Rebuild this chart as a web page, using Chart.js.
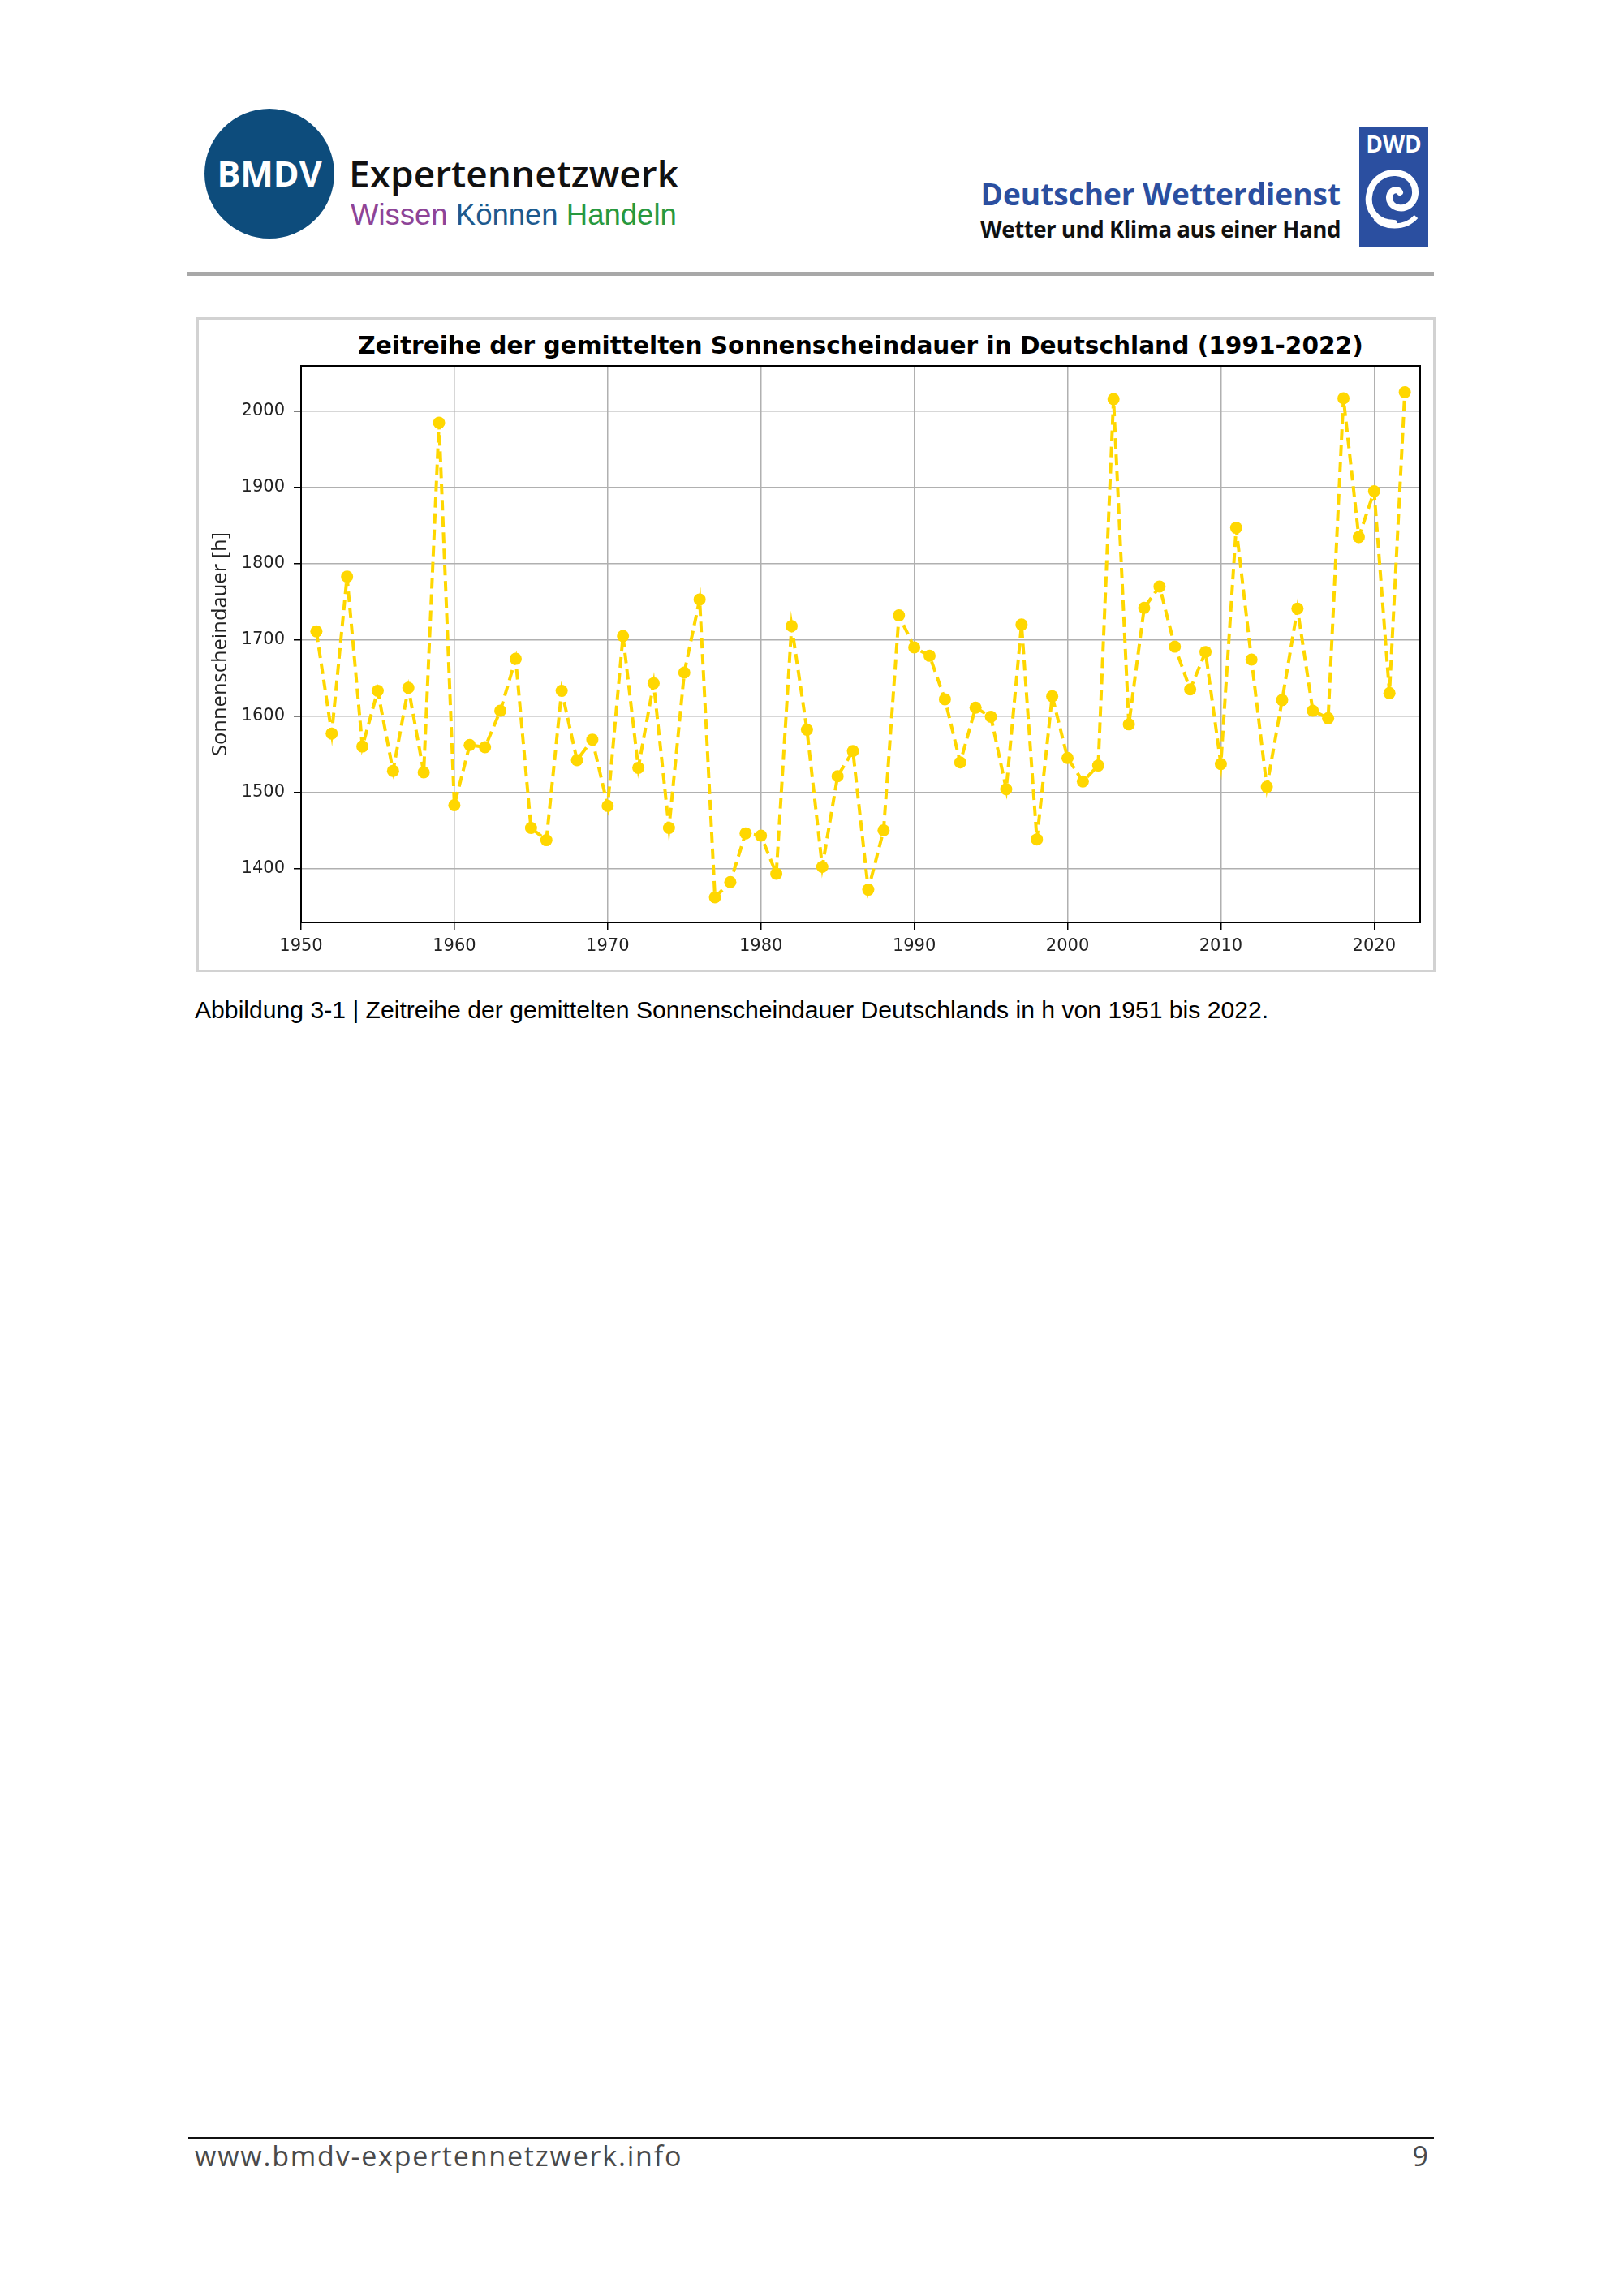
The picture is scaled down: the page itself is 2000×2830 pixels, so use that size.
<!DOCTYPE html>
<html>
<head>
<meta charset="utf-8">
<script src="https://cdn.jsdelivr.net/npm/chart.js@4"></script>
<style>
  body { margin: 0; background: #fff; }
  #page { position: relative; width: 2000px; height: 2830px; background: #fff; overflow: hidden; }
  .abs { position: absolute; white-space: nowrap; }
  #bmdvCircle { left: 252px; top: 134px; width: 160px; height: 160px; border-radius: 50%; background: #0d4c7c;
    color: #fff; font: bold 43px "Open Sans", sans-serif; text-align: center; line-height: 160px; }
  #expert { left: 430px; top: 182px; font: 600 46px "Open Sans", sans-serif; color: #111; }
  #claim { left: 432px; top: 244px; font: 36.5px "Liberation Sans", Arial, sans-serif; }
  #dwdName { right: 348px; top: 213px; font: bold 37px "Open Sans", sans-serif; color: #2b4fa0; }
  #dwdClaim { right: 348px; top: 263px; font: bold 27.7px "Open Sans", sans-serif; color: #111; letter-spacing: -0.5px; }
  #dwdBox { left: 1675px; top: 157px; width: 85px; height: 148px; background: #2b4fa0; }
  #dwdBox span { position: absolute; left: 0; width: 85px; top: 1px; text-align: center; color: #fff; font: bold 28px "Open Sans", sans-serif; }
  #headLine { left: 231px; top: 335px; width: 1536px; height: 5px; background: #a8a8a8; }
  #frame { left: 242px; top: 391px; width: 1521px; height: 801px; border: 3px solid #d2d2d2; }
  #chartTitle { left: 371px; width: 1379px; top: 409px; text-align: center; font: bold 29.6px "DejaVu Sans", sans-serif; color: #000; }
  #wrap { left: 242px; top: 391px; width: 1527px; height: 807px; }
  #caption { left: 240px; top: 1228px; font: 30.15px "Liberation Sans", Arial, sans-serif; color: #000; }
  #footLine { left: 232px; top: 2634px; width: 1535px; height: 3px; background: #111; }
  #footText { left: 240px; top: 2634px; font: 34px "Open Sans", sans-serif; color: #4a4a4a; letter-spacing: 1.8px; }
  #pageNo { right: 240px; top: 2634px; font: 34px "Open Sans", sans-serif; color: #4a4a4a; }
</style>
</head>
<body>
<div id="page">
  <div class="abs" id="bmdvCircle">BMDV</div>
  <div class="abs" id="expert">Expertennetzwerk</div>
  <div class="abs" id="claim"><span style="color:#8e4497">Wissen</span> <span style="color:#1d5a8e">Können</span> <span style="color:#27993f">Handeln</span></div>
  <div class="abs" id="dwdName">Deutscher Wetterdienst</div>
  <div class="abs" id="dwdClaim">Wetter und Klima aus einer Hand</div>
  <div class="abs" id="dwdBox"><span>DWD</span>
    <svg width="85" height="148" style="position:absolute;left:0;top:0">
      <path d="M43 118 C20 118 10 100 12 85 C14 66 30 55 45 56 C60 57 70 68 69 82 C68 94 58 101 48 99 C39 97 35 89 38 82 C41 76 48 76 50 80"
            fill="none" stroke="#fff" stroke-width="8" stroke-linecap="round"/>
      <path d="M20 112 C30 124 56 126 70 110" fill="none" stroke="#fff" stroke-width="6"/>
    </svg>
  </div>
  <div class="abs" id="headLine"></div>

  <div class="abs" id="frame"></div>
  <div class="abs" id="chartTitle">Zeitreihe der gemittelten Sonnenscheindauer in Deutschland (1991-2022)</div>
  <div class="abs" id="wrap"><canvas id="myChart"></canvas></div>

  <div class="abs" id="caption">Abbildung 3-1 | Zeitreihe der gemittelten Sonnenscheindauer Deutschlands in h von 1951 bis 2022.</div>

  <div class="abs" id="footLine"></div>
  <div class="abs" id="footText">www.bmdv-expertennetzwerk.info</div>
  <div class="abs" id="pageNo">9</div>
</div>

<script>
  // jahre 1951 - 2022
  var years = [];
  for (var y = 1951; y <= 2022; y++) years.push(y);

  // sonnenscheindauer in h
  var sunHours = [
    1711, 1577, 1783, 1560, 1633, 1528, 1637, 1526, 1985, 1483,
    1562, 1559, 1607, 1675, 1453, 1437, 1633, 1542, 1569, 1482,
    1705, 1532, 1643, 1453, 1657, 1753, 1362, 1382, 1446, 1443,
    1393, 1718, 1582, 1402, 1521, 1554, 1372, 1450, 1732, 1690,
    1679, 1622, 1539, 1611, 1599, 1504, 1720, 1438, 1626, 1545,
    1514, 1535, 2016, 1589, 1742, 1770, 1691, 1635, 1684, 1537,
    1847, 1674, 1507, 1621, 1741, 1607, 1597, 2017, 1835, 1895,
    1630, 2025
  ];

  var xTicks = [1950, 1960, 1970, 1980, 1990, 2000, 2010, 2020];
  var yTicks = [1400, 1500, 1600, 1700, 1800, 1900, 2000];

  var points = [];
  for (var i = 0; i < years.length; i++) {
    points.push({ x: years[i], y: sunHours[i] });
  }

  // schwarzer rahmen um den plot wie bei matplotlib
  var boxPlugin = {
    id: 'box',
    afterDraw: function(chart) {
      var a = chart.chartArea;
      var ctx = chart.ctx;
      ctx.save();
      ctx.strokeStyle = '#000';
      ctx.lineWidth = 2;
      ctx.strokeRect(a.left, a.top, a.right - a.left, a.bottom - a.top);
      ctx.restore();
    }
  };

  function plain(v) { return String(v); }

  var tickFont = { family: 'DejaVu Sans', size: 21 };
  var gridOpt = { color: '#b0b0b0', lineWidth: 1.5, tickColor: '#000', tickLength: 9, tickWidth: 1.5 };

  var myChart = new Chart(document.getElementById('myChart'), {
    type: 'line',
    data: {
      datasets: [{
        label: 'Sonnenscheindauer',
        data: points,
        borderColor: '#ffd700',
        backgroundColor: '#ffd700',
        borderWidth: 4,
        borderDash: [13, 7],
        pointRadius: 7.5,
        pointHoverRadius: 7.5,
        pointBorderWidth: 0,
        tension: 0,
        fill: false
      }]
    },
    options: {
      responsive: true,
      maintainAspectRatio: false,
      animation: false,
      layout: { padding: { left: 0, right: 19, top: 60, bottom: 0 } },
      plugins: { legend: { display: false }, tooltip: { enabled: false } },
      scales: {
        x: {
          type: 'linear',
          min: 1950,
          max: 2023,
          grid: gridOpt,
          border: { display: false },
          ticks: { font: tickFont, color: '#222', maxRotation: 0, padding: 8, callback: plain },
          afterBuildTicks: function(s) { s.ticks = xTicks.map(function(v) { return { value: v }; }); },
          afterFit: function(s) { s.height = 61; }
        },
        y: {
          min: 1329,
          max: 2059.6,
          grid: gridOpt,
          border: { display: false },
          ticks: { font: tickFont, color: '#222', padding: 11, callback: plain },
          title: {
            display: true,
            text: 'Sonnenscheindauer [h]',
            font: { family: 'Open Sans', size: 25.5 },
            color: '#222',
            padding: { top: 14, bottom: 0 }
          },
          afterBuildTicks: function(s) { s.ticks = yTicks.map(function(v) { return { value: v }; }); },
          afterFit: function(s) { s.width = 129; }
        }
      }
    },
    plugins: [boxPlugin]
  });
</script>
</body>
</html>
